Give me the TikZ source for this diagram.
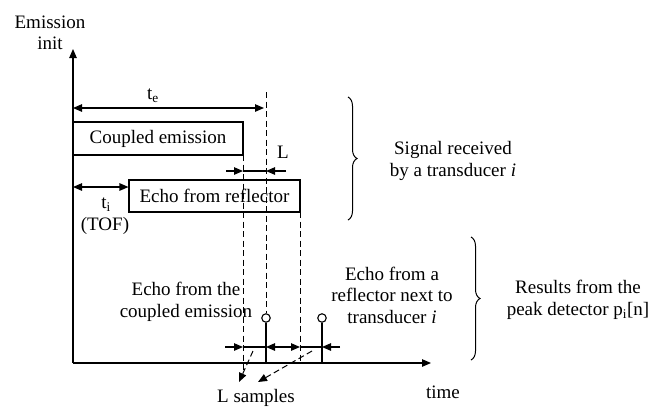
\documentclass[tikz,border=0pt]{standalone}
\usepackage{fontspec}
\setmainfont{Liberation Serif}
\usetikzlibrary{arrows.meta,decorations.pathreplacing}
\begin{document}
\begin{tikzpicture}[x=1pt,y=-1pt,line width=1.1pt,
  tip/.style={-{Triangle[length=9pt,width=7.5pt]}},
  dtip/.style={{Triangle[length=9pt,width=7.5pt]}-{Triangle[length=9pt,width=7.5pt]}},
  guide/.style={dash pattern=on 6pt off 3.5pt,line width=1pt},
  lbl/.style={font=\fontsize{19}{21.5}\selectfont,inner sep=0pt,align=center},
  sigbox/.style={draw,rectangle,inner sep=0pt,font=\fontsize{19}{21.5}\selectfont},
  peak/.style={draw,circle,fill=white,minimum size=8.5pt,inner sep=0pt},
  bracestyle/.style={decorate,decoration={brace,amplitude=9pt},line width=1pt}]
\useasboundingbox (0,0) rectangle (665,408);

% axes
\coordinate (O) at (73,363);
\coordinate (ytop) at (73,49);
\coordinate (xend) at (431,363);
\draw[tip] (O) -- (ytop);
\draw[tip] (O) -- (xend);
\node[lbl] (einit) at (50,33) {Emission\\init};
\node[lbl] (time) at (443,392) {time};

% boxes
\node[sigbox,minimum width=170pt,minimum height=33pt] (ce) at (158,138.5) {Coupled emission};
\node[sigbox,minimum width=171pt,minimum height=32pt] (er) at (214.5,196) {Echo from reflector};

% t_e
\coordinate (te0) at (73,108);
\coordinate (te1) at (264,108);
\draw[dtip] (te0) -- (te1);
\node[lbl] (telbl) at (153,96) {t\textsubscript{e}};

% dashed guides
\coordinate (g1t) at (243,155);
\coordinate (g1b) at (243,373);
\coordinate (g2t) at (266,92);
\coordinate (g3t) at (300,212);
\coordinate (g3b) at (300,363);
\draw[guide] (g1t) -- (g1b);
\draw[guide] (g3t) -- (g3b);

% peaks
\node[peak] (p1) at (266,318) {};
\node[peak] (p2) at (322,318) {};
\coordinate (p1b) at (266,363);
\coordinate (p2b) at (322,363);
\draw[guide] (g2t) -- (p1.north);
\draw (p1.south) -- (p1b);
\draw (p2.south) -- (p2b);

% L top
\coordinate (La) at (226,171);
\coordinate (Lb) at (243,171);
\coordinate (Lc) at (266,171);
\coordinate (Ld) at (286,171);
\draw[tip] (La) -- (Lb);
\draw (Lb) -- (Lc);
\draw[tip] (Ld) -- (Lc);
\node[lbl] (Llbl) at (283,152) {L};

% t_i
\coordinate (ti0) at (73,187);
\draw[dtip] (ti0) -- (er.west |- ti0);
\node[lbl] (tilbl) at (106,205) {t\textsubscript{i}};
\node[lbl] (tof) at (105,226) {(TOF)};

% bottom marks
\coordinate (Ba) at (225,347);
\coordinate (Bb) at (243,347);
\coordinate (Bc) at (266,347);
\coordinate (Bd) at (300,347);
\coordinate (Be) at (322,347);
\coordinate (Bf) at (340,347);
\draw[tip] (Ba) -- (Bb);
\draw (Bb) -- (Bc);
\draw[dtip] (Bc) -- (Bd);
\draw (Bd) -- (Be);
\draw[tip] (Bf) -- (Be);

% L samples
\node[lbl] (Ls) at (256,398) {L samples};
\coordinate (s1) at (253,351);
\coordinate (s1e) at (239,382);
\coordinate (s2) at (312,351);
\coordinate (s2e) at (258,382);
\draw[guide,tip] (s1) -- (s1e);
\draw[guide,tip] (s2) -- (s2e);

% texts
\node[lbl] (ecl) at (186,302) {Echo from the\\coupled emission};
\node[lbl] (erl) at (392,295) {Echo from a\\reflector next to\\transducer \textit{i}};

% braces
\coordinate (b1t) at (348,97);
\coordinate (b1b) at (348,220);
\draw[bracestyle] (b1t) -- (b1b);
\node[lbl] (sig) at (453,161) {Signal received\\by a transducer \textit{i}};
\coordinate (b2t) at (471,237);
\coordinate (b2b) at (471,360);
\draw[bracestyle] (b2t) -- (b2b);
\node[lbl] (res) at (578,300) {Results from the\\peak detector p\textsubscript{i}[n]};
\end{tikzpicture}
\end{document}
